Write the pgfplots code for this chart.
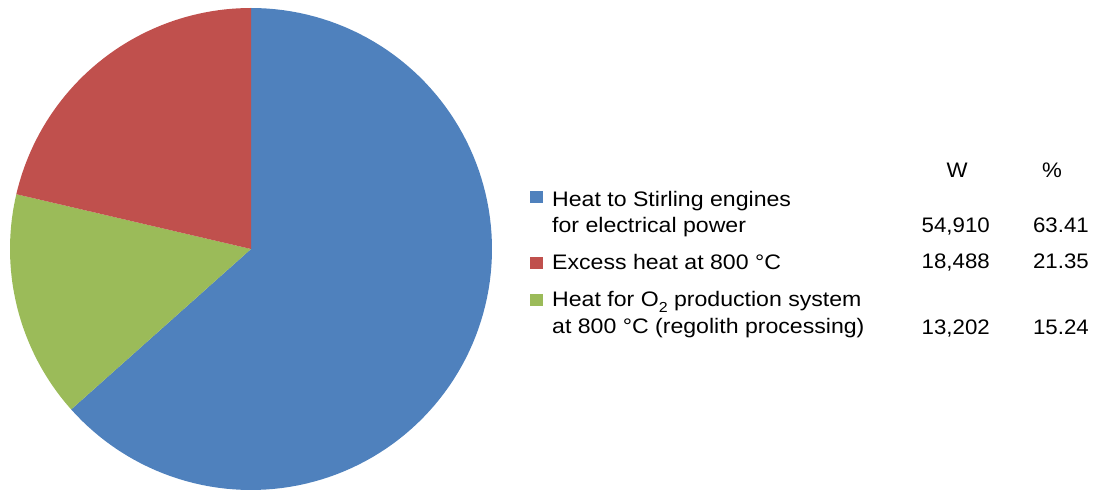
\documentclass[border=0pt]{standalone}
\usepackage{graphicx}
\usepackage{pgfplots}
\pgfplotsset{compat=1.18}
\usepackage{fontspec}
\setmainfont{Liberation Sans}

\definecolor{cblue}{HTML}{4F81BD}
\definecolor{cred}{HTML}{C0504D}
\definecolor{cgreen}{HTML}{9BBB59}

% slice values in kW
\def\Wa{54.910}
\def\Wb{18.488}
\def\Wc{13.202}

\newcommand{\lab}[1]{\scalebox{1.1}[1]{#1}}
\newcommand{\num}[1]{\scalebox{1.06}[1]{#1}}

\begin{document}
\begin{tikzpicture}
\useasboundingbox (0bp,0bp) rectangle (1094bp,490bp);
\pgfmathsetmacro{\tot}{\Wa+\Wb+\Wc}
\pgfmathsetmacro{\aA}{90-360*(\Wa/\tot)}
\pgfmathsetmacro{\aB}{\aA-360*(\Wc/\tot)}
\begin{axis}[
    at={(251bp,241bp)}, anchor=center,
    scale only axis, width=482bp, height=482bp,
    xmin=-1, xmax=1, ymin=-1, ymax=1,
    hide axis, clip=false,
]
% heat to Stirling engines
\addplot[fill=cblue, draw=none, domain=\aA:90, samples=120]
    ({cos(x)},{sin(x)}) -- (0,0) -- cycle;
% heat for O2 production
\addplot[fill=cgreen, draw=none, domain=\aB:\aA, samples=40]
    ({cos(x)},{sin(x)}) -- (0,0) -- cycle;
% excess heat
\addplot[fill=cred, draw=none, domain=-270:\aB, samples=50]
    ({cos(x)},{sin(x)}) -- (0,0) -- cycle;
\end{axis}

\begin{scope}[every node/.style={inner sep=0pt, font=\fontsize{21bp}{26bp}\selectfont}]
\node[anchor=base] at (957bp,312bp) {\num{W}};
\node[anchor=base] at (1052bp,312bp) {\num{\%}};

\fill[cblue] (530bp,287bp) rectangle (543bp,299bp);
\node[anchor=base west] at (552bp,283bp) {\lab{Heat to Stirling engines}};
\node[anchor=base west] at (552bp,257bp) {\lab{for electrical power}};
\node[anchor=base east] at (990bp,257bp) {\num{54,910}};
\node[anchor=base east] at (1089bp,257bp) {\num{63.41}};

\fill[cred] (530bp,221bp) rectangle (543bp,233bp);
\node[anchor=base west] at (552bp,220bp) {\lab{Excess heat at 800 °C}};
\node[anchor=base east] at (990bp,221bp) {\num{18,488}};
\node[anchor=base east] at (1089bp,221bp) {\num{21.35}};

\fill[cgreen] (530bp,184bp) rectangle (543bp,196bp);
\node[anchor=base west] at (552bp,183bp) {\lab{Heat for O\raisebox{-0.28em}{\fontsize{14.5bp}{14.5bp}\selectfont 2} production system}};
\node[anchor=base west] at (552bp,156bp) {\lab{at 800 °C (regolith processing)}};
\node[anchor=base east] at (990bp,155bp) {\num{13,202}};
\node[anchor=base east] at (1089bp,155bp) {\num{15.24}};
\end{scope}
\end{tikzpicture}
\end{document}
